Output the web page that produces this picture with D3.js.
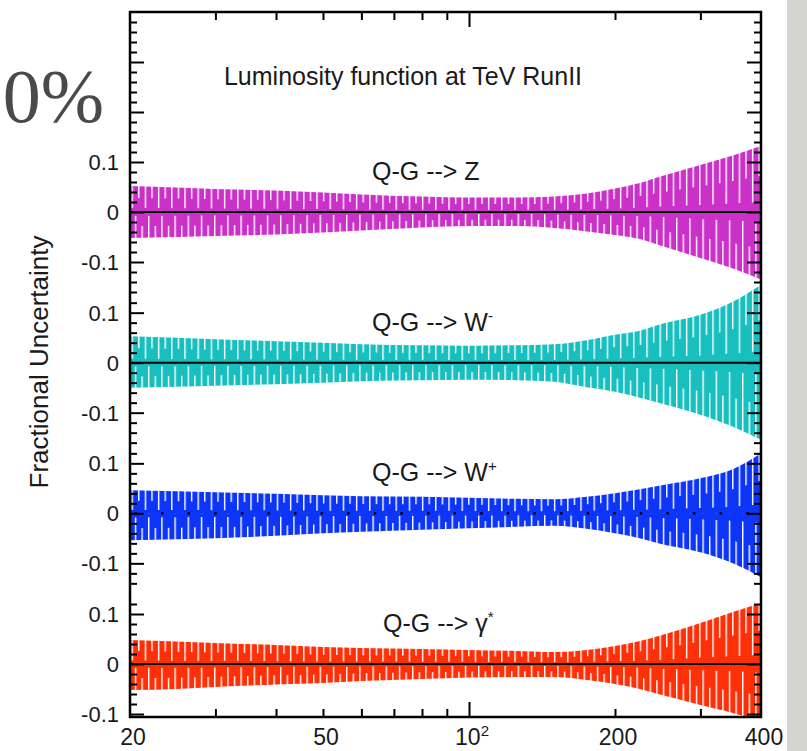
<!DOCTYPE html>
<html>
<head>
<meta charset="utf-8">
<script src="https://cdn.jsdelivr.net/npm/d3@7"></script>
<style>
	body { margin: 0; background: #fff; }
	svg { display: block; }
	text { font-family: "Liberation Sans", Arial, sans-serif; fill: #1a1a1a; }
</style>
</head>
<body>
<div id="chart-area"></div>
<script>
/* Luminosity function at TeV RunII - fractional uncertainty bands */

// Dane
var masses = [20, 25, 30, 40, 50, 60, 80, 100, 125, 150, 175, 200, 225, 250, 300, 350, 400];

var zUp = [0.052, 0.049, 0.046, 0.043, 0.039, 0.035, 0.031, 0.029, 0.029, 0.031, 0.037, 0.047, 0.058, 0.072, 0.094, 0.113, 0.132];
var zLo = [-0.052, -0.050, -0.048, -0.045, -0.041, -0.037, -0.031, -0.028, -0.028, -0.032, -0.039, -0.046, -0.054, -0.068, -0.092, -0.113, -0.135];

var wmUp = [0.053, 0.050, 0.047, 0.043, 0.040, 0.037, 0.035, 0.034, 0.035, 0.037, 0.045, 0.056, 0.064, 0.078, 0.096, 0.122, 0.156];
var wmLo = [-0.050, -0.048, -0.046, -0.043, -0.040, -0.037, -0.035, -0.034, -0.035, -0.038, -0.049, -0.058, -0.070, -0.082, -0.104, -0.128, -0.154];

var wpUp = [0.046, 0.044, 0.042, 0.039, 0.036, 0.034, 0.033, 0.031, 0.029, 0.028, 0.033, 0.040, 0.048, 0.056, 0.070, 0.088, 0.120];
var wpLo = [-0.054, -0.052, -0.050, -0.045, -0.040, -0.037, -0.033, -0.030, -0.027, -0.025, -0.031, -0.040, -0.050, -0.062, -0.078, -0.100, -0.128];

var gUp = [0.048, 0.045, 0.042, 0.038, 0.034, 0.032, 0.030, 0.028, 0.026, 0.024, 0.028, 0.036, 0.046, 0.058, 0.082, 0.104, 0.122];
var gLo = [-0.052, -0.050, -0.046, -0.041, -0.038, -0.034, -0.030, -0.027, -0.026, -0.026, -0.032, -0.040, -0.050, -0.062, -0.082, -0.098, -0.115];

var processes = ["Z", "W-", "W+", "gamma"];
var yTickLabels = [-0.1, 0, 0.1];
var xTickLabels = [20, 50, 100, 200, 400];
var xMinorTicks = [30, 40, 50, 60, 70, 80, 90, 200, 300];
var xMajorTicks = [100];

var bands = [
	{ name: "Z", up: zUp, lo: zLo, color: "#cb30c9" },
	{ name: "W-", up: wmUp, lo: wmLo, color: "#17c0bf" },
	{ name: "W+", up: wpUp, lo: wpLo, color: "#0c35f8" },
	{ name: "gamma", up: gUp, lo: gLo, color: "#ff3008" }
];

// Obszar wykresu
var margin = { left: 130, right: 46, top: 12, bottom: 34 };
var width = 807 - margin.left - margin.right;
var height = 751 - margin.top - margin.bottom;

var svg = d3.select("#chart-area")
	.append("svg")
	.attr("width", 807)
	.attr("height", 751);

// szary pasek po prawej
svg.append("rect")
	.attr("x", 787).attr("y", 0)
	.attr("width", 20).attr("height", 751)
	.attr("fill", "#d5d5d0");

// duzy napis po lewej
svg.append("text")
	.attr("x", 104)
	.attr("y", 122)
	.attr("text-anchor", "end")
	.style("font-family", "'Liberation Serif', 'Times New Roman', serif")
	.style("font-size", "76px")
	.style("fill", "#4a4a4a")
	.text("0%");

var g = svg.append("g")
	.attr("transform", "translate(" + margin.left + "," + margin.top + ")");

var defs = svg.append("defs");
defs.append("clipPath").attr("id", "plot-clip")
	.append("rect").attr("width", width).attr("height", height);

// Skale
var x = d3.scaleLog()
	.domain([20, 400])
	.range([0, width]);

var firstZero = 200, panelStep = 150.67, unit = 500;
var panelTops = [0, 283, 433, 582];
var panelBottoms = [283, 433, 582, height];

var yScales = bands.map((b, i) => {
	var z = firstZero + i * panelStep;
	return d3.scaleLinear().domain([-0.1, 0.1]).range([z + unit * 0.1, z - unit * 0.1]);
});

// wzory (paski z bialymi szczelinami)
function makePattern(id, color, slits, w, shift) {
	var p = defs.append("pattern")
		.attr("id", id)
		.attr("patternUnits", "userSpaceOnUse")
		.attr("width", w).attr("height", 20)
		.attr("patternTransform", "translate(" + shift + ",0)");
	p.append("rect").attr("width", w).attr("height", 20).attr("fill", color);
	slits.forEach(s => {
		p.append("rect").attr("x", s).attr("width", 1.4).attr("height", 20).attr("fill", "#fff");
	});
}

bands.forEach((b, i) => {
	makePattern("pAB" + i + "u", b.color, [0, 6.6], 13.2, 1.5);
	makePattern("pA" + i + "u", b.color, [0], 13.2, 1.5);
	makePattern("pAB" + i + "d", b.color, [0, 6.6], 13.2, 4.8);
	makePattern("pA" + i + "d", b.color, [0], 13.2, 4.8);
});

// Pasma niepewnosci
var bandG = g.append("g").attr("clip-path", "url(#plot-clip)");

bands.forEach((b, i) => {
	var y = yScales[i];
	var pts = masses.map((m, j) => ({ m: m, up: b.up[j], lo: b.lo[j] }));
	var layers = [
		{ k: 1, fillU: "url(#pAB" + i + "u)", fillD: "url(#pAB" + i + "d)" },
		{ k: 0.55, fillU: "url(#pA" + i + "u)", fillD: "url(#pA" + i + "d)" },
		{ k: 0.15, fillU: b.color, fillD: b.color }
	];
	layers.forEach(L => {
		var areaUp = d3.area()
			.x(d => x(d.m))
			.y0(y(0))
			.y1(d => y(d.up * L.k))
			.curve(d3.curveMonotoneX);
		var areaLo = d3.area()
			.x(d => x(d.m))
			.y0(y(0))
			.y1(d => y(d.lo * L.k))
			.curve(d3.curveMonotoneX);
		bandG.append("path").datum(pts).attr("d", areaUp).attr("fill", L.fillU);
		bandG.append("path").datum(pts).attr("d", areaLo).attr("fill", L.fillD);
	});

	// linia zera
	var zl = bandG.append("line")
		.attr("x1", 0).attr("x2", width)
		.attr("y1", y(0)).attr("y2", y(0))
		.attr("stroke", "#000")
		.attr("stroke-width", 2);
	if (b.name === "W+") {
		zl.attr("stroke-width", 2.5)
			.attr("stroke-dasharray", "2.5,24.1")
			.attr("stroke-dashoffset", -31);
	}
});

// Osie Y (lewa i prawa), kreski do srodka
bands.forEach((b, i) => {
	var y = yScales[i];
	var lo = y.invert(panelBottoms[i]), hi = y.invert(panelTops[i]);
	var ticks = d3.range(Math.ceil(lo / 0.02 - 1e-6), Math.floor(hi / 0.02 + 1e-6) + 1)
		.filter(k => y(k * 0.02) > panelTops[i] + 2 && y(k * 0.02) < panelBottoms[i] - 2);
	var minor = ticks.filter(k => k % 5 !== 0).map(k => k * 0.02);
	var major = ticks.filter(k => k % 5 === 0).map(k => k * 0.02);

	[[d3.axisRight(y), 0], [d3.axisLeft(y), width]].forEach(a => {
		var ax = g.append("g").attr("class", "y-axis")
			.attr("transform", "translate(" + a[1] + ",0)");
		ax.call(a[0].tickValues(minor).tickSize(7).tickFormat(""));
		ax.call(g2 => g2.select(".domain").remove());
		var ax2 = g.append("g").attr("class", "y-axis")
			.attr("transform", "translate(" + a[1] + ",0)");
		ax2.call(a[0].tickValues(major).tickSize(14).tickFormat(""));
		ax2.call(g2 => g2.select(".domain").remove());
	});

	g.selectAll(null)
		.data(yTickLabels)
		.enter().append("text")
		.attr("x", -11)
		.attr("y", d => y(d))
		.attr("dy", "0.36em")
		.attr("text-anchor", "end")
		.style("font-size", "22px")
		.text(d => d === 0 ? "0" : (d < 0 ? "-" : "") + Math.abs(d).toFixed(1));
});

g.selectAll(".y-axis line").attr("stroke", "#000").attr("stroke-width", 2);

// Osie X (dol i gora), kreski do srodka
[[d3.axisTop(x), height], [d3.axisBottom(x), 0]].forEach(a => {
	var ax = g.append("g").attr("class", "x-axis")
		.attr("transform", "translate(0," + a[1] + ")");
	ax.call(a[0].tickValues(xMinorTicks).tickSize(8).tickFormat(""));
	ax.call(g2 => g2.select(".domain").remove());
	var ax2 = g.append("g").attr("class", "x-axis")
		.attr("transform", "translate(0," + a[1] + ")");
	ax2.call(a[0].tickValues(xMajorTicks).tickSize(15).tickFormat(""));
	ax2.call(g2 => g2.select(".domain").remove());
});
g.selectAll(".x-axis line").attr("stroke", "#000").attr("stroke-width", 2);

var xl = g.selectAll(".x-label")
	.data(xTickLabels)
	.enter().append("text")
	.attr("class", "x-label")
	.attr("x", d => x(d) + 3)
	.attr("y", height + 28)
	.attr("text-anchor", "middle")
	.style("font-size", "23px");
xl.each(function (d) {
	var t = d3.select(this);
	if (d === 100) {
		t.append("tspan").text("10");
		t.append("tspan").attr("dy", "-9").style("font-size", "15px").text("2");
	} else {
		t.text(d);
	}
});

// Ramka
g.append("rect")
	.attr("width", width)
	.attr("height", height)
	.attr("fill", "none")
	.attr("stroke", "#000")
	.attr("stroke-width", 2.5);

// Etykiety
g.append("text")
	.attr("x", 273)
	.attr("y", 73)
	.attr("text-anchor", "middle")
	.style("font-size", "25px")
	.text("Luminosity function at TeV RunII");

svg.append("text")
	.attr("transform", "translate(48," + 362 + ") rotate(-90)")
	.attr("text-anchor", "middle")
	.style("font-size", "26px")
	.text("Fractional Uncertainty");

var labelStart = [242, 242, 242, 253];
var supText = { "Z": "", "W-": "-", "W+": "+", "gamma": "*" };
processes.forEach((p, i) => {
	var y = yScales[i];
	var t = g.append("text")
		.attr("x", labelStart[i])
		.attr("y", y(0) - 32)
		.style("font-size", "25px");
	t.append("tspan").text("Q-G --> " + (p === "gamma" ? "γ" : p.charAt(0)));
	if (supText[p]) {
		t.append("tspan").attr("dy", "-10").style("font-size", "15px").text(supText[p]);
	}
});
</script>
</body>
</html>
